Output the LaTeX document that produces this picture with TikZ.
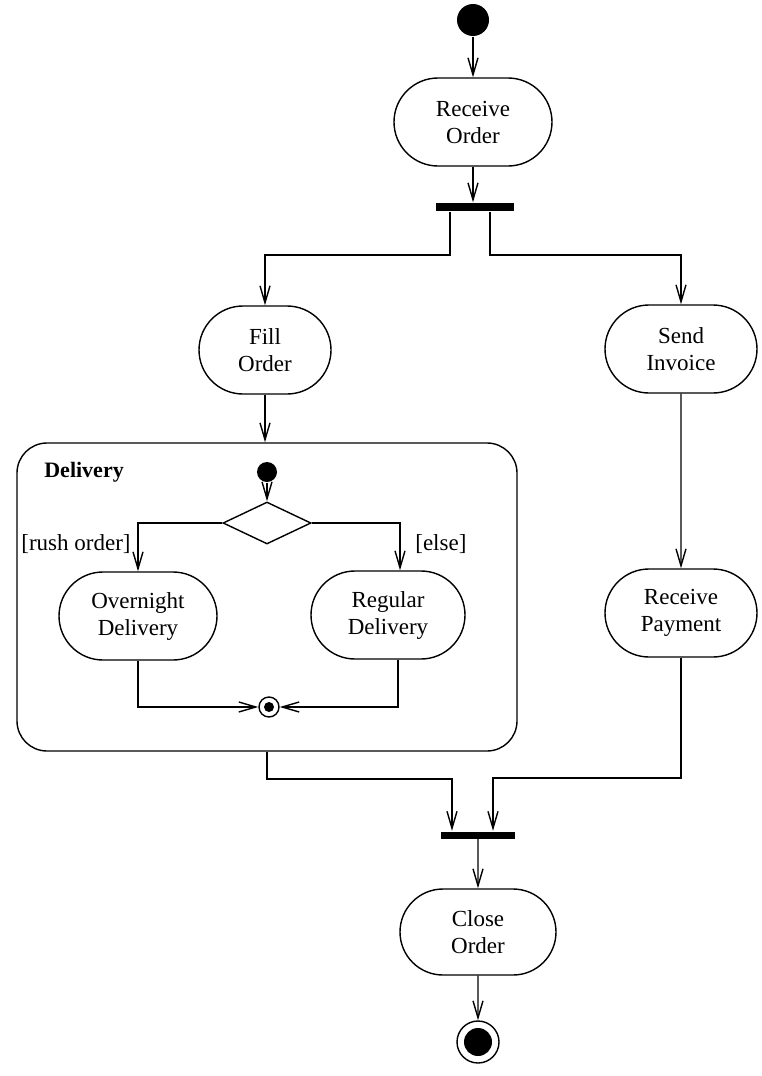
\documentclass[tikz,border=0pt]{standalone}
\usepackage{fontspec}
\setmainfont{Liberation Serif}
\usetikzlibrary{arrows.meta,shapes.misc,shapes.geometric}

\begin{document}
\begin{tikzpicture}[x=0.5pt,y=-0.5pt,line width=0.7pt,
  flow/.style={-{Straight Barb[length=8.5pt,width=5pt]}},
  activity/.style={draw, rounded rectangle, align=center, minimum width=80pt, minimum height=44pt, inner sep=2pt, font=\fontsize{11.5}{13.5}\selectfont},
  bar/.style={fill=black, inner sep=0pt, minimum height=4pt},
  guard/.style={font=\fontsize{11.5}{13.5}\selectfont}]
\useasboundingbox (0,0) rectangle (761,1076);
\coordinate (fl) at (450,255);
\coordinate (fr) at (490,255);
\coordinate (jl) at (452,779);
\coordinate (jr) at (493,778);
 \node[circle, fill=black, minimum size=16pt, inner sep=0pt] (start) at (473,20) {};
 \node[activity, minimum width=83pt] (recv) at (473,122) {Receive\\Order};
 \node[bar, minimum width=39pt] (fork) at (475,207) {};
 \node[activity, minimum width=70pt] (fill) at (265,350) {Fill\\Order};
 \node[activity] (send) at (681,349) {Send\\Invoice};
 \node[draw, rounded corners=15pt, minimum width=250pt, minimum height=154pt] (delivery) at (267,597) {};
 \node[anchor=west, font=\bfseries\fontsize{11}{13}\selectfont] (dtitle) at (37,472) {Delivery};
 \node[circle, fill=black, minimum size=10pt, inner sep=0pt] (dstart) at (267,472) {};
 \node[diamond, draw, minimum width=44pt, minimum height=21pt, inner sep=0pt] (dec) at (267,523) {};
 \node[activity, minimum width=83pt] (over) at (138,616) {Overnight\\Delivery};
 \node[activity, minimum width=81pt] (reg) at (388,615) {Regular\\Delivery};
 \node[circle, draw, minimum size=10pt, inner sep=0pt] (dend) at (269,707) {};
 \fill (dend) circle (2.5pt);
 \node[activity] (pay) at (681,613) {Receive\\Payment};
 \node[bar, minimum width=37pt, minimum height=3.5pt] (join) at (478,835) {};
 \node[activity, minimum width=82pt, minimum height=43pt] (close) at (478,932) {Close\\Order};
 \node[circle, draw, minimum size=21pt, inner sep=0pt] (stop) at (478,1042) {};
 \fill (stop) circle (7pt);
 \draw[flow] (start) -- (recv);
 \draw[flow] (recv.south) -- (recv.south |- fork.north);
 \draw[flow] (fl |- fork.south) -- (fl) -| (fill.north);
 \draw[flow] (fr |- fork.south) -- (fr) -| (send.north);
 \draw[flow] (fill.south) -- (fill.south |- delivery.north);
 \draw[flow] (send) -- (pay);
 \draw[flow] (dstart) -- (dec);
 \draw[flow] (dec.west) -| node[guard, pos=0.72, left]{[rush order]} (over.north);
 \draw[flow] (dec.east) -| node[guard, pos=0.72, right=4pt]{[else]} ([xshift=6pt]reg.north);
 \draw[flow] (over.south) |- (dend.west);
 \draw[flow] ([xshift=5pt]reg.south) |- (dend.east);
 \draw[flow] (delivery.south) |- (jl) -- (jl |- join.north);
 \draw[flow] (pay.south) |- (jr) -- (jr |- join.north);
 \draw[flow] (join) -- (close);
 \draw[flow] (close) -- (stop);
\end{tikzpicture}
\end{document}
